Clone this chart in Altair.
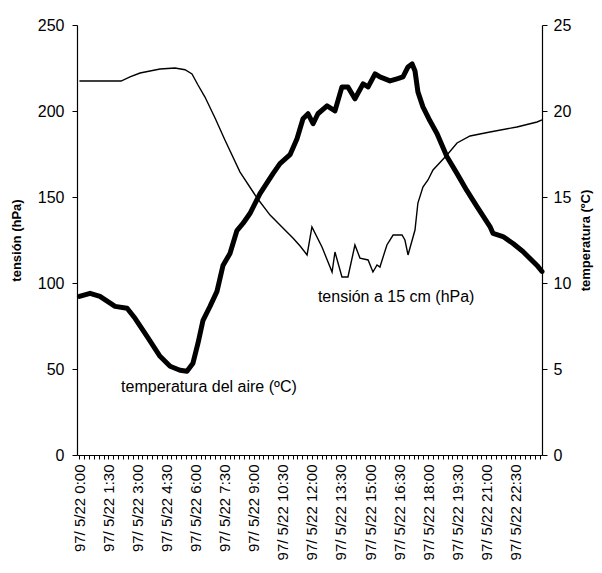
import altair as alt
import pandas as pd

# ---- data ----
tension_hours = [0.0, 2.15, 2.61, 3.13, 4.16, 4.93, 5.45, 5.81, 6.12, 6.48, 7.0, 7.51, 8.29,
                 9.17, 9.84, 10.71, 11.02, 11.39, 11.75, 12.0, 12.52, 13.04, 13.19, 13.55,
                 13.86, 14.22, 14.48, 14.9, 15.15, 15.36, 15.51, 15.87, 16.19, 16.65, 16.8,
                 16.96, 17.32, 17.47, 17.73, 17.99, 18.25, 18.97, 19.49, 20.16, 21.19, 22.58,
                 23.62, 23.875]
tension_hpa = [217.4, 217.4, 219.8, 222.1, 224.4, 225.0, 224.0, 221.5, 215.1, 208.1, 195.9,
               183.1, 164.5, 149.4, 139.5, 129.7, 126.2, 121.5, 116.3, 132.6, 120.9, 106.4,
               118.0, 103.5, 103.5, 122.1, 114.5, 113.4, 106.4, 110.5, 109.3, 122.1, 127.9,
               127.9, 125.0, 116.3, 130.8, 146.5, 155.8, 159.9, 165.7, 174.4, 181.4, 185.5,
               187.8, 190.7, 193.6, 194.8]

temp_hours = [0.0, 0.55, 1.06, 1.84, 2.46, 2.87, 3.49, 4.16, 4.68, 5.19, 5.55, 5.86, 6.12,
              6.38, 6.74, 7.10, 7.41, 7.77, 8.13, 8.44, 8.80, 9.32, 9.99, 10.35, 10.87, 11.23,
              11.54, 11.80, 12.06, 12.31, 12.78, 13.19, 13.55, 13.86, 14.22, 14.64, 14.90,
              15.26, 15.51, 15.77, 16.03, 16.39, 16.70, 16.96, 17.17, 17.32, 17.47, 17.73,
              18.09, 18.46, 18.97, 19.49, 20.0, 20.52, 21.19, 21.35, 21.86, 22.38, 22.89,
              23.62, 23.875]
temp_c = [9.22, 9.40, 9.22, 8.64, 8.53, 7.95, 6.90, 5.74, 5.16, 4.93, 4.87, 5.34, 6.50,
          7.83, 8.64, 9.51, 11.02, 11.72, 13.05, 13.46, 14.04, 15.20, 16.36, 16.94, 17.46,
          18.39, 19.55, 19.84, 19.26, 19.84, 20.30, 20.01, 21.40, 21.40, 20.71, 21.58, 21.40,
          22.16, 21.98, 21.87, 21.75, 21.87, 21.98, 22.56, 22.74, 22.33, 21.11, 20.24, 19.43,
          18.68, 17.34, 16.36, 15.37, 14.44, 13.28, 12.88, 12.70, 12.30, 11.83, 11.02, 10.67]

label_hours = [0, 1.5, 3, 4.5, 6, 7.5, 9, 10.5, 12, 13.5, 15, 16.5, 18, 19.5, 21, 22.5]
label_texts = ["97/ 5/22 0:00", "97/ 5/22 1:30", "97/ 5/22 3:00", "97/ 5/22 4:30",
               "97/ 5/22 6:00", "97/ 5/22 7:30", "97/ 5/22 9:00", "97/ 5/22 10:30",
               "97/ 5/22 12:00", "97/ 5/22 13:30", "97/ 5/22 15:00", "97/ 5/22 16:30",
               "97/ 5/22 18:00", "97/ 5/22 19:30", "97/ 5/22 21:00", "97/ 5/22 22:30"]
tick_hours = [i * 0.25 for i in range(96)]

left_ticks = [0, 50, 100, 150, 200, 250]
right_ticks = [0, 5, 10, 15, 20, 25]

ann_texts = ["tensión a 15 cm (hPa)", "temperatura del aire (ºC)"]
ann_hours = [12.31, 2.15]
ann_hpa = [91.9, 39.5]

# ---- tables ----
df_t = pd.DataFrame({"h": tension_hours, "v": tension_hpa})
df_c = pd.DataFrame({"h": temp_hours, "c": temp_c})
df_a = pd.DataFrame({"h": ann_hours, "v": ann_hpa, "txt": ann_texts})

FONT = "Liberation Sans"
xscale = alt.Scale(domain=[-0.125, 23.875], nice=False, zero=False)

lh = "[" + ",".join(str(v) for v in label_hours) + "]"
lt = "[" + ",".join("'" + s + "'" for s in label_texts) + "]"
label_expr = f"indexof({lh}, datum.value) >= 0 ? {lt}[indexof({lh}, datum.value)] : ''"

x_axis = alt.Axis(values=tick_hours, labelExpr=label_expr, labelAngle=270,
                  labelAlign="right", labelBaseline="middle",
                  labelFontSize=15, labelPadding=5, tickSize=4, title=None,
                  grid=False, labelOverlap=False, labelBound=False, labelFlush=False)

x_enc = alt.X("h:Q", scale=xscale, axis=x_axis)

tension = alt.Chart(df_t).mark_line(color="black", strokeWidth=1.4).encode(
    x=x_enc,
    y=alt.Y("v:Q", scale=alt.Scale(domain=[0, 250], nice=False),
            axis=alt.Axis(values=left_ticks, orient="left", title="tensión (hPa)",
                          tickSize=5, labelPadding=8, titlePadding=14, grid=False)),
)

ann = alt.Chart(df_a).mark_text(align="left", baseline="middle", fontSize=16,
                                font=FONT, color="black").encode(
    x=x_enc,
    y=alt.Y("v:Q", scale=alt.Scale(domain=[0, 250], nice=False)),
    text="txt:N",
)

temp = alt.Chart(df_c).mark_line(color="black", strokeWidth=5,
                                 strokeJoin="round", strokeCap="round").encode(
    x=x_enc,
    y=alt.Y("c:Q", scale=alt.Scale(domain=[0, 25], nice=False),
            axis=alt.Axis(values=right_ticks, orient="right", title="temperatura (ºC)",
                          titleAngle=270, titleBaseline="top", tickSize=5, labelPadding=6,
                          titlePadding=9, grid=False)),
)

chart = alt.layer(alt.layer(tension, ann), temp).resolve_scale(y="independent").properties(
    width=465, height=430,
    autosize=alt.AutoSizeParams(type="none"),
    padding={"left": 69, "top": 17, "right": 52, "bottom": 108},
    background="white",
).configure_view(stroke=None).configure_axis(
    labelFont=FONT, titleFont=FONT, labelFontSize=16, titleFontSize=13,
    titleFontWeight="bold", labelColor="black", titleColor="black",
    domainColor="black", tickColor="black", domainWidth=1.2,
)

chart.save("out.html", embed_options={"renderer": "svg", "actions": False})
